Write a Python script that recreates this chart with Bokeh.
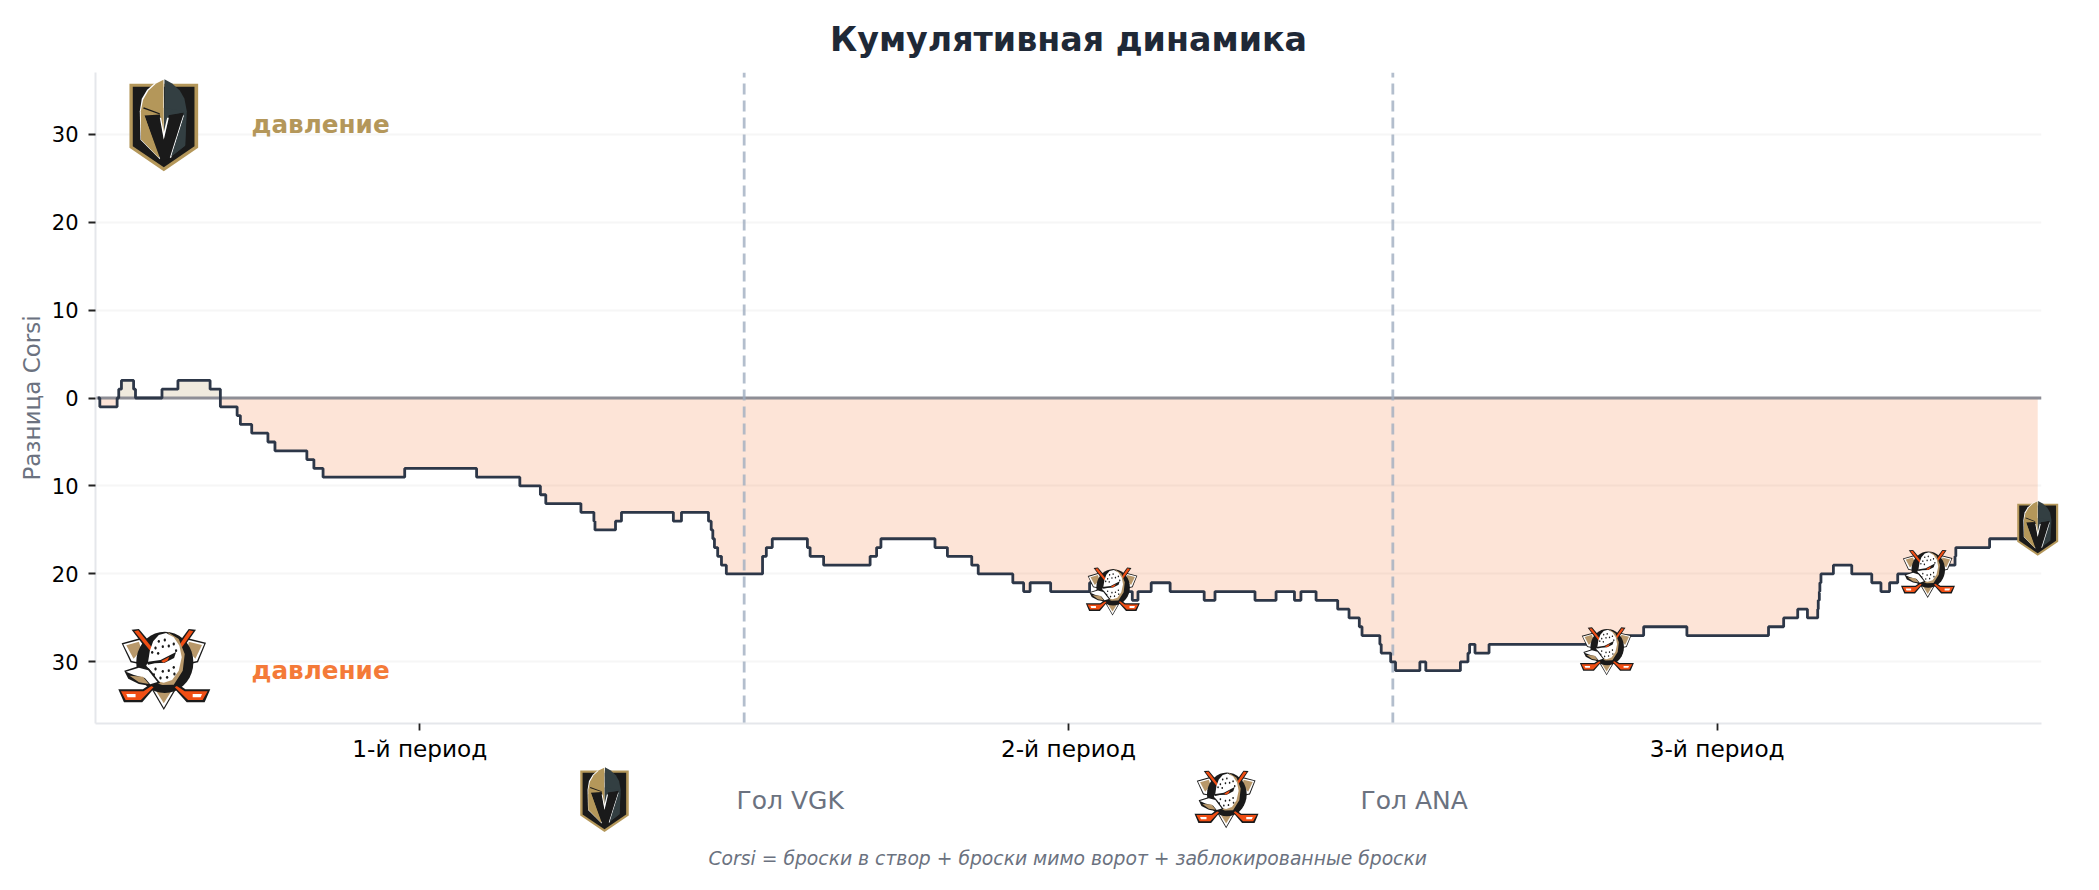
import math
from bokeh.plotting import figure
from bokeh.layouts import column
from bokeh.embed import file_html
from bokeh.resources import INLINE
from bokeh.models import Range1d, Label, FixedTicker

# ---------- data ----------
times = [4.5, 8, 40, 43, 48, 70.5, 74, 123, 152.5, 212, 231, 262, 268, 289, 319, 332, 391, 404, 421, 572,
         705, 785, 823, 833, 898, 922, 924, 962, 973, 1069, 1084, 1134, 1139, 1142, 1145, 1151, 1158, 1167,
         1234, 1241, 1252, 1317, 1322, 1347, 1433, 1445, 1453, 1553, 1576, 1621, 1633, 1697, 1717, 1729, 1767,
         1839, 1880, 1918, 1928.5, 1953, 1988, 2051, 2071, 2145, 2184, 2218, 2230, 2258, 2298, 2319, 2338, 2343,
         2376, 2378.5, 2396, 2405, 2450, 2461, 2525, 2539, 2542, 2552, 2578, 2796, 2864, 2944, 3095, 3123, 3149,
         3167, 3186, 3187, 3189, 3190, 3192, 3215, 3249, 3286, 3303, 3319, 3334, 3388, 3440, 3441.5, 3504, 3593]
corsi = [0, -1, 0, 1, 2, 1, 0, 1, 2, 1, -1, -2, -3, -4, -5, -6, -7, -8, -9, -8,
         -9, -10, -11, -12, -13, -14, -15, -14, -13, -14, -13, -14, -15, -16, -17, -18, -19, -20,
         -18, -17, -16, -17, -18, -19, -18, -17, -16, -17, -18, -19, -20, -21, -22, -21, -22,
         -21, -22, -23, -22, -21, -22, -23, -22, -23, -22, -23, -22, -23, -24, -25, -26, -27,
         -28, -29, -30, -31, -30, -31, -30, -29, -28, -29, -28, -27, -26, -27, -26, -25, -24,
         -25, -24, -23, -22, -21, -20, -19, -20, -21, -22, -21, -20, -19, -18, -17, -16, -16]
period_ticks = [600, 1800, 3000]
period_labels = ["1-й период", "2-й период", "3-й период"]
period_ends = [1200, 2400]
ana_goal_t = [1882, 2796, 3390]
ana_goal_y = [-22, -28.8, -20]
vgk_goal_t = [3593]
vgk_goal_y = [-14.8]
y_ticks = [-30, -20, -10, 0, 10, 20, 30]

GOLD = "#B4975A"
ORANGE = "#F47A38"
INK = "#2D3748"

# ---------- figure ----------
W, H = 2083, 766
ML, MT, FR, FB = 95, 72, 2041, 723
MR, MB = W - FR, H - FB
FW, FH = FR - ML, FB - MT
X0, X1, Y0, Y1 = 0, 3600, -37, 37
SX = FW / (X1 - X0)
SY = FH / (Y1 - Y0)

def dx(px):
    return (px - ML) / SX + X0

def dy(py):
    return Y1 - (py - MT) / SY

p = figure(width=W, height=H, output_backend="svg", toolbar_location=None,
           x_range=Range1d(X0, X1), y_range=Range1d(Y0, Y1),
           min_border_left=ML, min_border_right=MR, min_border_top=MT, min_border_bottom=MB,
           background_fill_color="white", border_fill_color="white")
p.outline_line_color = None

p.xgrid.visible = False
p.ygrid.grid_line_color = "#f6f6f6"
p.ygrid.grid_line_width = 2
p.ygrid.ticker = FixedTicker(ticks=y_ticks)

for ax in (p.xaxis[0], p.yaxis[0]):
    ax.axis_line_color = "#e5e7eb"
    ax.axis_line_width = 2
    ax.major_tick_line_color = "#222222"
    ax.major_tick_line_width = 1.8
    ax.major_tick_out = 7
    ax.major_tick_in = 0
    ax.minor_tick_line_color = None
    ax.major_label_text_color = "#000000"
    ax.major_label_text_font = "DejaVu Sans"

p.xaxis[0].major_label_text_font_size = "23.2px"
p.yaxis[0].major_label_text_font_size = "21px"
p.xaxis[0].ticker = FixedTicker(ticks=period_ticks)
p.xaxis[0].major_label_overrides = dict(zip(period_ticks, period_labels))
p.xaxis[0].major_label_standoff = 4
p.yaxis[0].ticker = FixedTicker(ticks=y_ticks)
p.yaxis[0].major_label_overrides = {v: str(abs(v)) for v in y_ticks}
p.yaxis[0].major_label_standoff = 10
p.yaxis[0].axis_label = "Разница Corsi"
p.yaxis[0].axis_label_text_color = "#6B7280"
p.yaxis[0].axis_label_text_font = "DejaVu Sans"
p.yaxis[0].axis_label_text_font_style = "normal"
p.yaxis[0].axis_label_text_font_size = "23px"
p.yaxis[0].axis_label_standoff = 4

p.title.text = "Кумулятивная динамика"
p.title.align = "center"
p.title.text_color = "#1F2937"
p.title.text_font = "DejaVu Sans"
p.title.text_font_style = "bold"
p.title.text_font_size = "33.3px"
p.title.standoff = 28

# ---------- areas and lines ----------
neg = [min(v, 0) for v in corsi]
pos = [max(v, 0) for v in corsi]
zeros = [0] * len(corsi)
p.varea_step(x=times, y1=neg, y2=zeros, step_mode="after", fill_color=ORANGE, fill_alpha=0.2)
p.varea_step(x=times, y1=zeros, y2=pos, step_mode="after", fill_color=GOLD, fill_alpha=0.2)
p.line([X0, X1], [0, 0], line_color="#8E8E96", line_width=3.2)
for e in period_ends:
    p.line([e, e], [Y0, Y1], line_color="#A0AEC0", line_alpha=0.8, line_width=2.8, line_dash="11 6")
p.step(times, corsi, mode="after", line_color=INK, line_width=2.8)

# ---------- logos drawn as vector shapes ----------
def ell(cx, cy, rx, ry, n=36, rot=0.0):
    c, s = math.cos(rot), math.sin(rot)
    return [(cx + rx * math.cos(a) * c - ry * math.sin(a) * s,
             cy + rx * math.cos(a) * s + ry * math.sin(a) * c)
            for a in [2 * math.pi * i / n for i in range(n)]]

VBOX = (27, 25, 206, 277)
VK, VG, VD, VW = "#1A1A1A", "#B4975A", "#333F42", "#FFFFFF"
VGK_SHAPES = [
    (VG, [(27, 40), (233, 40), (233, 232), (130, 302), (27, 232)]),
    (VK, [(37, 49), (222, 49), (222, 227), (130, 290), (37, 227)]),
    (VW, [(130, 25), (105, 36), (80, 58), (64, 85), (58, 122), (60, 208), (118, 266), (132, 225)]),
    (VG, [(129, 28), (107, 39), (84, 60), (68, 88), (61, 122), (62, 206), (116, 262), (129, 222)]),
    (VD, [(132, 26), (155, 39), (178, 60), (192, 85), (199, 122), (194, 226), (150, 260), (132, 222)]),
    (VK, [(72, 135), (118, 132), (122, 150), (130, 205), (143, 150), (144, 132), (190, 126), (150, 262),
          (131, 272), (118, 262)]),
    (VK, [(70, 110), (118, 128), (118, 132), (68, 114)]),
    (VG, [(118, 118), (129, 112), (129, 190), (122, 150)]),
    (VD, [(131, 112), (188, 122), (190, 126), (144, 134), (131, 190)]),
    (VW, [(118, 142), (122, 142), (130, 185), (140, 142), (145, 142), (130, 208)]),
    (VW, [(188, 135), (191, 135), (152, 262), (148, 262)]),
    (VG, [(62, 140), (72, 135), (115, 262), (62, 206)]),
    (VD, [(191, 135), (197, 135), (194, 225), (152, 258)]),
]

DBOX = (38, 25, 277, 243)
DK, DO, DT, DW = "#1A1A1A", "#F04E14", "#B8986A", "#FFFFFF"
dots = [(160, 62), (178, 58), (150, 82), (172, 78), (190, 76), (140, 95), (158, 98), (205, 70), (212, 90),
        (205, 140), (190, 150), (172, 152), (150, 145), (185, 170), (165, 172), (207, 160), (145, 162)]
DUCK_SHAPES = [
    (DK, [(48, 68), (105, 52), (130, 75), (100, 130), (75, 125)]),
    (DW, [(53, 71), (104, 57), (126, 77), (98, 125), (78, 121)]),
    (DT, [(62, 74), (100, 63), (108, 88), (84, 114)]),
    (DK, [(302, 66), (245, 52), (225, 75), (255, 130), (278, 125)]),
    (DW, [(297, 69), (247, 57), (228, 77), (256, 125), (275, 121)]),
    (DT, [(290, 73), (250, 63), (246, 88), (270, 114)]),
    (DK, [(135, 200), (215, 200), (175, 268)]),
    (DW, [(142, 204), (208, 204), (175, 261)]),
    (DT, [(150, 208), (200, 208), (175, 248)]),
    (DK, ell(178, 125, 86, 92)),
    (DK, [(78, 27), (100, 25), (148, 82), (132, 98)]),
    (DO, [(86, 32), (98, 29), (141, 83), (134, 90)]),
    (DK, [(272, 27), (250, 25), (208, 82), (222, 98)]),
    (DO, [(264, 32), (252, 29), (215, 83), (222, 90)]),
    (DK, [(38, 206), (112, 206), (138, 188), (152, 196), (110, 245), (55, 245)]),
    (DO, [(46, 212), (114, 212), (138, 196), (144, 200), (106, 238), (60, 238)]),
    (DW, [(62, 220), (90, 220), (90, 230), (66, 230)]),
    (DK, [(315, 206), (240, 206), (214, 188), (200, 196), (244, 245), (298, 245)]),
    (DO, [(307, 212), (238, 212), (214, 196), (208, 200), (248, 238), (292, 238)]),
    (DW, [(290, 220), (262, 220), (262, 230), (286, 230)]),
    (DT, [(185, 33), (220, 55), (238, 100), (232, 150), (205, 192), (170, 193), (150, 186), (200, 170), (222, 120),
          (215, 70)]),
    (DW, [(182, 37), (160, 43), (143, 62), (133, 90), (128, 122), (122, 135), (140, 155), (155, 182), (175, 186),
          (200, 178), (220, 150), (229, 110), (222, 75), (205, 50)]),
    (DK, [(56, 150), (100, 136), (130, 143), (164, 186), (140, 197), (100, 190), (68, 174)]),
    (DW, [(61, 153), (100, 141), (128, 149), (156, 184), (134, 191), (118, 172), (85, 163)]),
    (DT, [(72, 165), (112, 168), (130, 190), (100, 185)]),
    (DK, [(122, 124), (165, 118), (212, 94), (206, 112), (178, 126), (148, 128), (128, 132)]),
    (DO, [(167, 121), (192, 108), (186, 120), (174, 126)]),
] + [(DK, ell(x, y, 3.5, 4.5, n=10)) for x, y in dots]


def logo(shapes, box, cx, cy, w, h, sx, sy, xs, ys, cols):
    bx, by, bw, bh = box
    for col, pts in shapes:
        xs.append([cx + ((px - bx) / bw - 0.5) * w / sx for px, _ in pts])
        ys.append([cy - ((py - by) / bh - 0.5) * h / sy for _, py in pts])
        cols.append(col)


lx, ly, lc = [], [], []
for t, v in zip(ana_goal_t, ana_goal_y):
    logo(DUCK_SHAPES, DBOX, t, v, 54, 48, SX, SY, lx, ly, lc)
for t, v in zip(vgk_goal_t, vgk_goal_y):
    logo(VGK_SHAPES, VBOX, t, v, 41, 55, SX, SY, lx, ly, lc)
logo(VGK_SHAPES, VBOX, dx(163.3), dy(124.5), 68.7, 92.3, SX, SY, lx, ly, lc)
logo(DUCK_SHAPES, DBOX, dx(163.8), dy(669), 92, 81, SX, SY, lx, ly, lc)
p.patches(xs=lx, ys=ly, fill_color=lc, line_color=None, level="overlay")

def label(fig, x, y, text, color, size, style="normal"):
    fig.add_layout(Label(x=x, y=y, text=text, text_color=color, text_font="DejaVu Sans",
                         text_font_size=size, text_font_style=style, text_align="left", text_baseline="middle"))


label(p, dx(251), dy(124), "давление", GOLD, "24.7px", "bold")
label(p, dx(251), dy(670), "давление", ORANGE, "24.7px", "bold")

# ---------- legend strip below the chart (its frame lines up with the chart's frame) ----------
LH = 108
q = figure(width=W, height=LH, output_backend="svg", toolbar_location=None,
           x_range=Range1d(ML, FR), y_range=Range1d(H + LH, H),
           min_border_left=0, min_border_right=0, min_border_top=0, min_border_bottom=0,
           background_fill_color="white", border_fill_color="white")
q.outline_line_color = None
q.xaxis.visible = False
q.yaxis.visible = False
q.grid.visible = False
mx, my, mc = [], [], []
logo(VGK_SHAPES, VBOX, 604, 799, 48.5, 65, 1, -1, mx, my, mc)
logo(DUCK_SHAPES, DBOX, 1226, 799, 64, 57.7, 1, -1, mx, my, mc)
q.patches(xs=mx, ys=my, fill_color=mc, line_color=None)
label(q, 736, 800, "Гол VGK", "#6B7280", "25px")
label(q, 1360, 800, "Гол ANA", "#6B7280", "25px")
label(q, 708, 858, "Corsi = броски в створ + броски мимо ворот + заблокированные броски", "#6B7280", "18.75px", "italic")

open("out.html", "w").write(file_html(column(p, q, spacing=0), INLINE))
